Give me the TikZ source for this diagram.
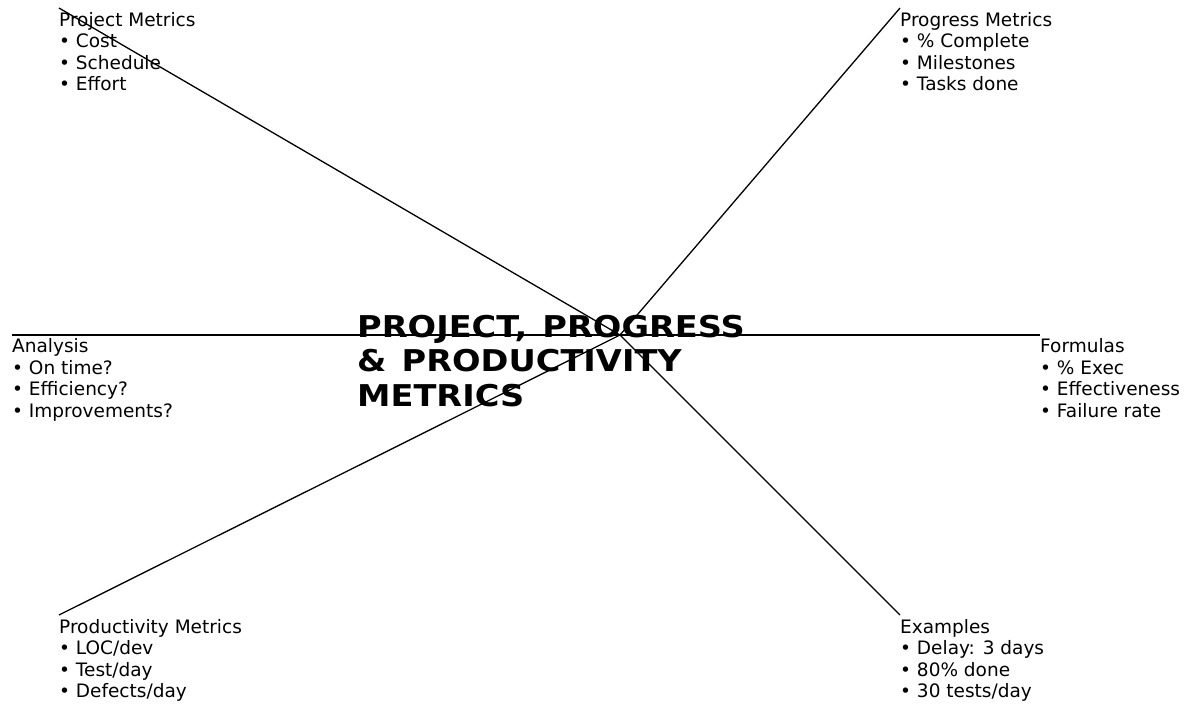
\documentclass[tikz,border=0pt]{standalone}
\usepackage{fontspec}
\setmainfont{DejaVu Sans}
\newfontfamily\titlefont{DejaVu Sans}[FakeStretch=1.12,WordSpace=1.3]
\begin{document}
\begin{tikzpicture}[x=1pt,y=-1pt,
  spoke/.style={draw=black, line width=1.3pt},
  lbl/.style={anchor=base west, inner sep=0pt, font=\fontsize{18.5}{21.6}\selectfont},
  ttl/.style={anchor=base west, inner sep=0pt, font=\titlefont\fontsize{30}{34.2}\selectfont\bfseries}]
\useasboundingbox (0,0) rectangle (1187,704);
\coordinate (c) at (620,335);
\coordinate (tl) at (59,8);
\coordinate (tr) at (900,8);
\coordinate (ml) at (12,335);
\coordinate (mr) at (1040,335);
\coordinate (bl) at (59,615);
\coordinate (br) at (900,615);
\node[ttl] (title) at (357,337.7) {\vtop{\hbox{PROJECT, PROGRESS}\hbox{\& PRODUCTIVITY}\hbox{METRICS}}};
\node[lbl] (ltl) at ([shift={(0,18)}]tl) {\vtop{\hbox{Project Metrics}\hbox{• Cost}\hbox{• Schedule}\hbox{• Effort}}};
\node[lbl] (ltr) at ([shift={(0,18)}]tr) {\vtop{\hbox{Progress Metrics}\hbox{• \% Complete}\hbox{• Milestones}\hbox{• Tasks done}}};
\node[lbl] (lml) at ([shift={(0,17.5)}]ml) {\vtop{\hbox{Analysis}\hbox{• On time?}\hbox{• Efficiency?}\hbox{• Improvements?}}};
\node[lbl] (lmr) at ([shift={(0,17.5)}]mr) {\vtop{\hbox{Formulas}\hbox{• \% Exec}\hbox{• Effectiveness}\hbox{• Failure rate}}};
\node[lbl] (lbl) at ([shift={(0,18)}]bl) {\vtop{\hbox{Productivity Metrics}\hbox{• LOC/dev}\hbox{• Test/day}\hbox{• Defects/day}}};
\node[lbl] (lbr) at ([shift={(0,18)}]br) {\vtop{\hbox{Examples}\hbox{• Delay: 3 days}\hbox{• 80\% done}\hbox{• 30 tests/day}}};
\draw[spoke] (c) -- (tl);
\draw[spoke] (c) -- (tr);
\draw[spoke] (ml) -- (mr);
\draw[spoke] (c) -- (bl);
\draw[spoke] (c) -- (br);
\end{tikzpicture}
\end{document}
